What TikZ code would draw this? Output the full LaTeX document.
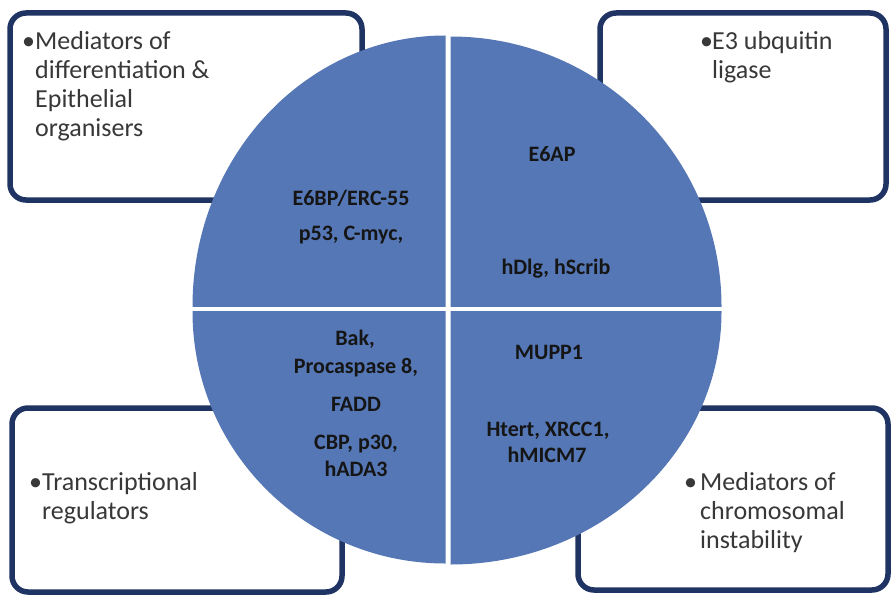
\documentclass[tikz,border=0pt]{standalone}
\usepackage{fontspec}
\setmainfont{Carlito}
\definecolor{frame}{HTML}{1F3463}
\definecolor{pie}{HTML}{5577B5}
\definecolor{ink}{HTML}{151515}
\begin{document}
\begin{tikzpicture}[x=1pt,y=-1pt,
  panel/.style={draw=frame, line width=5.5pt, fill=white, rounded corners=16pt},
  label/.style={anchor=base west, inner sep=0pt, text=ink!85!white, font=\fontsize{26}{29}\selectfont},
  item/.style={anchor=base, inner sep=0pt, text=ink, font=\fontsize{22}{26}\selectfont\bfseries}]
\useasboundingbox[fill=white] (0,0) rectangle (893,596);

% corner panels
\draw[panel] (10,13) rectangle (362,200);
\draw[panel] (600,13) rectangle (886,200);
\draw[panel] (12,408) rectangle (342,592);
\draw[panel] (578,408) rectangle (888,590);

% four quadrants of the central disc
\begin{scope}
  \clip (0,0) rectangle (445.5,306.5);
  \fill[pie] (445.5,306.5) ellipse [x radius=253, y radius=271];
\end{scope}
\begin{scope}
  \clip (450.5,0) rectangle (893,306.5);
  \fill[pie] (450.5,306.5) ellipse [x radius=271, y radius=270];
\end{scope}
\begin{scope}
  \clip (0,311.5) rectangle (445.5,596);
  \fill[pie] (445.5,311.5) ellipse [x radius=253, y radius=252];
\end{scope}
\begin{scope}
  \clip (450.5,311.5) rectangle (893,596);
  \fill[pie] (450.5,311.5) ellipse [x radius=271, y radius=253];
\end{scope}

% panel captions
\node[label] (tl) at (22,50) {\parbox[t]{330pt}{\makebox[13pt][l]{•}Mediators of\\\hspace*{13pt}differentiation \&\\\hspace*{13pt}Epithelial\\\hspace*{13pt}organisers}};
\node[label] (tr) at (700,50) {\parbox[t]{180pt}{\makebox[12pt][l]{•}E3 ubquitin\\\hspace*{12pt}ligase}};
\node[label] (bl) at (29,490) {\parbox[t]{300pt}{\makebox[13pt][l]{•}Transcriptional\\\hspace*{13pt}regulators}};
\node[label] (br) at (684,490) {\parbox[t]{200pt}{\makebox[16pt][l]{•}Mediators of\\\hspace*{16pt}chromosomal\\\hspace*{16pt}instability}};

% quadrant contents
\node[item] (q1a) at (351,205) {E6BP/ERC-55};
\node[item] (q1b) at (351,240) {p53, C-myc,};
\node[item] (q2a) at (552,161) {E6AP};
\node[item] (q2b) at (556,274) {hDlg, hScrib};
\node[item] (q3a) at (355,345) {Bak,};
\node[item] (q3b) at (356,373) {Procaspase 8,};
\node[item] (q3c) at (356,411) {FADD};
\node[item] (q3d) at (356,449) {CBP, p30,};
\node[item] (q3e) at (356,476) {hADA3};
\node[item] (q4a) at (549,359) {MUPP1};
\node[item] (q4b) at (548,436) {Htert, XRCC1,};
\node[item] (q4c) at (547,462) {hMICM7};
\end{tikzpicture}
\end{document}
